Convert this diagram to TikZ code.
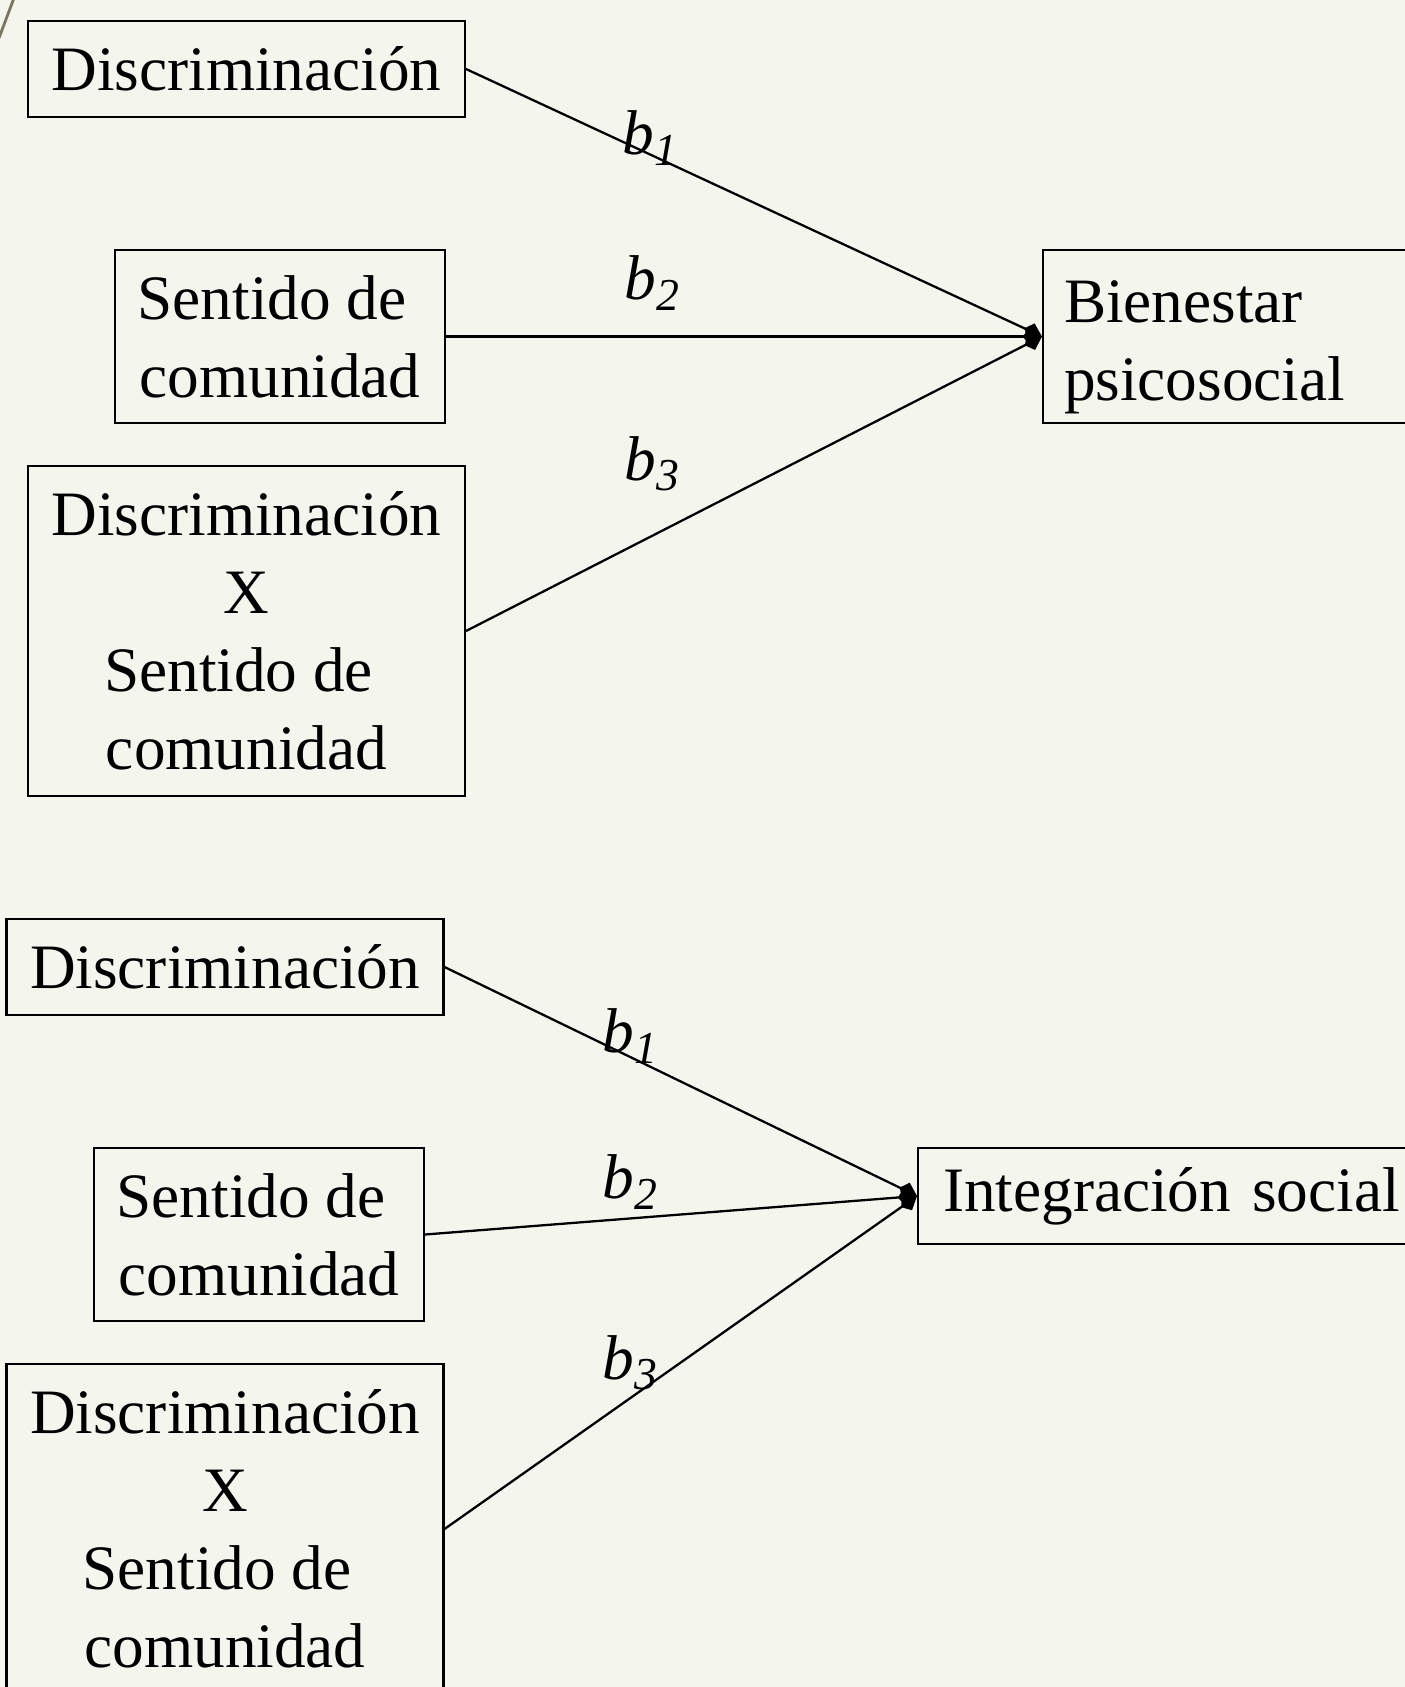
\documentclass[tikz,border=0pt]{standalone}
\usepackage{fontspec}
\setmainfont{Liberation Serif}
\usetikzlibrary{arrows.meta}
\definecolor{fondo}{HTML}{F4F6EE}
\definecolor{adorno}{HTML}{7B765F}
\newcommand{\bcoef}[1]{\textit{b}\raisebox{-0.35ex}{\fontsize{26}{26}\selectfont\textit{#1}}}
\newcommand{\esp}{\rule{0.25em}{0pt}}

\begin{document}
\begin{tikzpicture}[x=0.02cm,y=-0.02cm,>={Kite[length=11pt,width=10pt,inset=4pt]},
    predictor/.style={draw,line width=1.2pt,align=center,inner sep=0.2cm,
        font=\fontsize{36}{44.4}\selectfont},
    outcome/.style={predictor,anchor=west,align=left,text width=7.2cm,inner xsep=0.42cm},
    coef/.style={inner sep=0pt,font=\fontsize{36}{44.4}\selectfont},
    path/.style={->,line width=1.3pt}]
    \useasboundingbox (0,0) rectangle (1405,1687);
    \fill[fondo] (0,0) rectangle (1405,1687);
    \clip (0,0) rectangle (1405,1687);
    \draw[adorno,line width=1.6pt] (14,-2) -- (-1,38);
    % primer modelo
    \node[predictor,minimum width=8.74cm,minimum height=1.92cm] (disc1) at (246.5,69) {Discriminación};
    \node[predictor,minimum width=6.6cm,minimum height=3.46cm] (sent1) at (280,336.5) {Sentido de\esp\\comunidad};
    \node[predictor,minimum width=8.74cm,minimum height=6.6cm] (inter1) at (246.5,631) {Discriminación\\X\\Sentido de\esp\\comunidad};
    \node[outcome,minimum height=3.46cm,inner ysep=0pt] (bien) at (1042,336.5) {\rule{0pt}{1em}Bienestar\\psicosocial};
    \draw[path] (disc1.east) -- (bien.west);
    \draw[path] (sent1.east) -- (bien.west);
    \draw[path] (inter1.east) -- (bien.west);
    \node[coef] (b11) at (650,138) {\bcoef{1}};
    \node[coef] (b12) at (652,283) {\bcoef{2}};
    \node[coef] (b13) at (652,464) {\bcoef{3}};
    % segundo modelo
    \node[predictor,minimum width=8.74cm,minimum height=1.92cm] (disc2) at (225,967) {Discriminación};
    \node[predictor,minimum width=6.6cm,minimum height=3.46cm] (sent2) at (259,1234.5) {Sentido de\esp\\comunidad};
    \node[predictor,minimum width=8.74cm,minimum height=6.6cm] (inter2) at (225,1529) {Discriminación\\X\\Sentido de\esp\\comunidad};
    \node[outcome,minimum height=1.92cm,text width=9.5cm,inner xsep=0.5cm] (integ) at (917,1196) {Integración social};
    \draw[path] (disc2.east) -- (integ.west);
    \draw[path] (sent2.east) -- (integ.west);
    \draw[path] (inter2.east) -- (integ.west);
    \node[coef] (b21) at (630,1036) {\bcoef{1}};
    \node[coef] (b22) at (630,1182) {\bcoef{2}};
    \node[coef] (b23) at (630,1363) {\bcoef{3}};
\end{tikzpicture}
\end{document}
